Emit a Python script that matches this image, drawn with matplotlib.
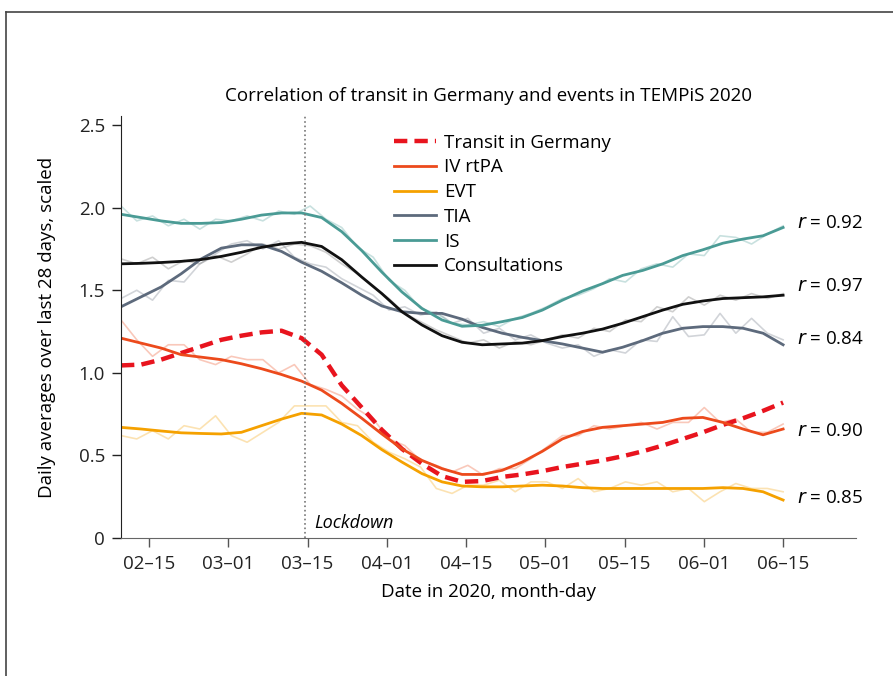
import numpy as np
import matplotlib.pyplot as plt
from matplotlib.lines import Line2D

plt.rcParams['font.family'] = ['Open Sans', 'DejaVu Sans']

# tick labels (evenly spaced on the axis)
tick_labels = ['02–15', '03–01', '03–15', '04–01', '04–15', '05–01', '05–15', '06–01', '06–15']

# x positions of the smoothed curves (in tick units) and of the raw daily points
x_smooth = np.linspace(-0.353, 8.0, 34)
x_raw = np.linspace(-0.353, 8.0, 43)

transit = [1.045, 1.05, 1.08, 1.12, 1.16, 1.20, 1.225, 1.245, 1.255, 1.21, 1.11, 0.925,
           0.79, 0.655, 0.54, 0.45, 0.375, 0.34, 0.345, 0.37, 0.385, 0.405, 0.43, 0.45,
           0.47, 0.495, 0.525, 0.56, 0.60, 0.64, 0.685, 0.725, 0.77, 0.82]
iv_rtpa = [1.21, 1.18, 1.15, 1.11, 1.095, 1.08, 1.055, 1.025, 0.99, 0.95, 0.895, 0.815,
           0.725, 0.63, 0.54, 0.47, 0.42, 0.385, 0.385, 0.41, 0.46, 0.525, 0.60, 0.645,
           0.67, 0.68, 0.69, 0.70, 0.725, 0.73, 0.70, 0.66, 0.625, 0.66]
evt = [0.67, 0.66, 0.648, 0.637, 0.633, 0.63, 0.64, 0.68, 0.72, 0.755, 0.745, 0.69,
       0.62, 0.535, 0.46, 0.39, 0.34, 0.315, 0.31, 0.31, 0.315, 0.32, 0.315, 0.305,
       0.30, 0.30, 0.30, 0.30, 0.30, 0.30, 0.305, 0.30, 0.28, 0.23]
tia = [1.40, 1.46, 1.52, 1.60, 1.69, 1.755, 1.775, 1.775, 1.735, 1.67, 1.615, 1.545,
       1.47, 1.405, 1.37, 1.36, 1.36, 1.325, 1.275, 1.24, 1.215, 1.195, 1.175, 1.15,
       1.125, 1.155, 1.195, 1.24, 1.27, 1.28, 1.28, 1.27, 1.24, 1.17]
is_ = [1.96, 1.94, 1.92, 1.905, 1.905, 1.91, 1.93, 1.955, 1.968, 1.968, 1.94, 1.855,
       1.74, 1.61, 1.49, 1.39, 1.32, 1.282, 1.288, 1.31, 1.335, 1.38, 1.44, 1.495,
       1.54, 1.59, 1.62, 1.66, 1.71, 1.745, 1.785, 1.81, 1.83, 1.88]
consult = [1.66, 1.663, 1.668, 1.675, 1.686, 1.705, 1.73, 1.76, 1.78, 1.79, 1.765, 1.685,
           1.58, 1.48, 1.37, 1.29, 1.225, 1.185, 1.17, 1.175, 1.18, 1.195, 1.22, 1.24,
           1.265, 1.30, 1.34, 1.38, 1.415, 1.435, 1.45, 1.455, 1.46, 1.47]

# raw (unsmoothed) values
iv_rtpa_raw = [1.32, 1.20, 1.10, 1.17, 1.17, 1.08, 1.05, 1.10, 1.08, 1.08, 1.00, 1.05, 0.93,
               0.90, 0.86, 0.78, 0.72, 0.60, 0.56, 0.47, 0.44, 0.40, 0.44, 0.38, 0.42, 0.42,
               0.48, 0.55, 0.62, 0.62, 0.68, 0.66, 0.68, 0.70, 0.66, 0.70, 0.70, 0.79, 0.70,
               0.72, 0.64, 0.64, 0.69]
evt_raw = [0.62, 0.60, 0.65, 0.60, 0.68, 0.66, 0.74, 0.62, 0.58, 0.64, 0.70, 0.80, 0.80,
           0.80, 0.70, 0.68, 0.58, 0.52, 0.48, 0.43, 0.30, 0.27, 0.32, 0.32, 0.35, 0.28,
           0.34, 0.34, 0.30, 0.36, 0.28, 0.30, 0.34, 0.32, 0.34, 0.28, 0.30, 0.22, 0.28,
           0.33, 0.30, 0.30, 0.28]
tia_raw = [1.45, 1.50, 1.44, 1.56, 1.55, 1.66, 1.72, 1.78, 1.80, 1.75, 1.80, 1.70, 1.66,
           1.64, 1.57, 1.52, 1.47, 1.38, 1.40, 1.35, 1.37, 1.30, 1.33, 1.24, 1.27, 1.20,
           1.23, 1.18, 1.15, 1.17, 1.10, 1.14, 1.12, 1.20, 1.19, 1.34, 1.22, 1.23, 1.36,
           1.24, 1.33, 1.24, 1.20]
is_raw = [2.01, 1.92, 1.95, 1.89, 1.93, 1.87, 1.93, 1.92, 1.95, 1.92, 1.98, 1.96, 2.01,
          1.93, 1.88, 1.76, 1.70, 1.56, 1.50, 1.39, 1.36, 1.30, 1.29, 1.31, 1.28, 1.33,
          1.36, 1.40, 1.45, 1.47, 1.51, 1.57, 1.55, 1.63, 1.66, 1.64, 1.72, 1.71, 1.83,
          1.82, 1.78, 1.84, 1.89]
consult_raw = [1.69, 1.66, 1.70, 1.63, 1.68, 1.66, 1.71, 1.67, 1.72, 1.78, 1.75, 1.78, 1.77,
               1.73, 1.66, 1.60, 1.52, 1.45, 1.36, 1.31, 1.26, 1.22, 1.18, 1.20, 1.15, 1.19,
               1.17, 1.20, 1.23, 1.21, 1.27, 1.25, 1.32, 1.31, 1.40, 1.37, 1.46, 1.41, 1.47,
               1.44, 1.48, 1.45, 1.48]

correlations = ['0.92', '0.97', '0.84', '0.90', '0.85']
lockdown_x = 1.97

c_transit = '#e8141e'
c_iv = '#ec4a1c'
c_evt = '#f5a100'
c_tia = '#5d6a7c'
c_is = '#4a9b95'
c_con = '#111111'

fig = plt.figure(figsize=(8.93, 6.76), dpi=100)
ax = fig.add_axes([0.1355, 0.2041, 0.8231, 0.6243])

# raw daily values, faint
ax.plot(x_raw, iv_rtpa_raw, color=c_iv, alpha=0.3, lw=1.2)
ax.plot(x_raw, evt_raw, color=c_evt, alpha=0.3, lw=1.2)
ax.plot(x_raw, tia_raw, color='#9aa0aa', alpha=0.45, lw=1.2)
ax.plot(x_raw, is_raw, color=c_is, alpha=0.3, lw=1.2)
ax.plot(x_raw, consult_raw, color='#888888', alpha=0.4, lw=1.2)

# smoothed curves
ax.plot(x_smooth, transit, color=c_transit, lw=3.2, dashes=(3.0, 1.6), label='Transit in Germany')
ax.plot(x_smooth, iv_rtpa, color=c_iv, lw=2.0, label='IV rtPA')
ax.plot(x_smooth, evt, color=c_evt, lw=2.0, label='EVT')
ax.plot(x_smooth, tia, color=c_tia, lw=2.0, label='TIA')
ax.plot(x_smooth, is_, color=c_is, lw=2.0, label='IS')
ax.plot(x_smooth, consult, color=c_con, lw=2.0, label='Consultations')

ax.axvline(lockdown_x, color='#777777', lw=1.2, ls=':')
ax.text(lockdown_x + 0.12, 0.09, 'Lockdown', style='italic', fontsize=13, va='center')

# r labels at the end of the curves
label_y = [1.91, 1.525, 1.205, 0.65, 0.245]
for lab, ly in zip(correlations, label_y):
    ax.text(8.18, ly, '$r$ = ' + lab, fontsize=13.5, va='center')

ax.set_xlim(-0.353, 8.92)
ax.set_ylim(0, 2.555)
ax.set_xticks(range(len(tick_labels)))
ax.set_xticklabels(tick_labels)
ax.set_yticks([0, 0.5, 1.0, 1.5, 2.0, 2.5])
ax.set_yticklabels(['0', '0.5', '1.0', '1.5', '2.0', '2.5'])
ax.tick_params(labelsize=13.5, length=6.5, width=1, colors='#222222', pad=5)
ax.tick_params(axis='x', colors='#555555', labelcolor='#222222', pad=6)
for s in ['top', 'right']:
    ax.spines[s].set_visible(False)
ax.spines['left'].set_color('#222222')
ax.spines['bottom'].set_color('#666666')

ax.set_xlabel('Date in 2020, month-day', fontsize=13.5, labelpad=7)
ax.set_ylabel('Daily averages over last 28 days, scaled', fontsize=13.5, labelpad=16)
ax.set_title('Correlation of transit in Germany and events in TEMPiS 2020', fontsize=13.5, pad=11)

ax.legend(loc='upper left', bbox_to_anchor=(0.349, 0.998), frameon=False, fontsize=13.5,
          handlelength=2.2, labelspacing=0.36, handletextpad=0.45)

# frame lines of the surrounding box
fig.add_artist(Line2D([0.007, 0.007], [0, 0.982], transform=fig.transFigure, color='#444444', lw=1.2))
fig.add_artist(Line2D([0.007, 1.0], [0.982, 0.982], transform=fig.transFigure, color='#444444', lw=1.2))

fig.savefig('out.png', dpi=100)
